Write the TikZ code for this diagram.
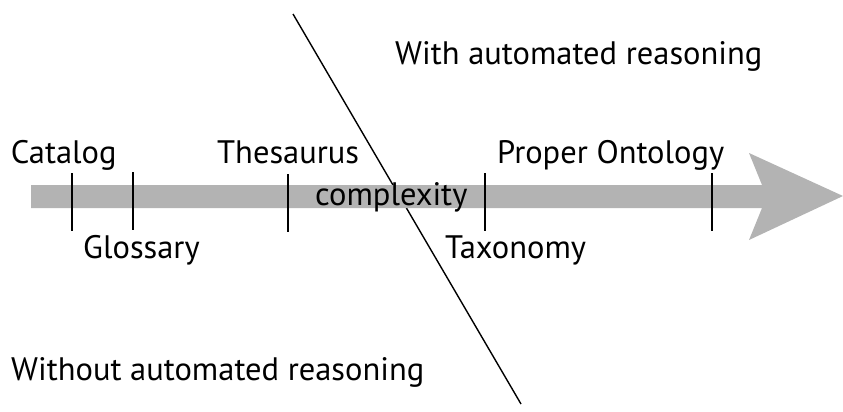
\documentclass[tikz,border=0pt]{standalone}
\usepackage{fontspec}
\setmainfont{PT Sans}
\definecolor{shaft}{RGB}{179,179,179}
\begin{document}
\begin{tikzpicture}[x=1pt, y=-1pt, font=\fontsize{32.5}{38}\selectfont, line join=miter,
  lbl/.style={anchor=base west, inner sep=0pt},
  tick/.style={line width=2pt}]
	\useasboundingbox (0,0) rectangle (843,412);
	% dividing line, drawn first so the arrow covers it
	\path (293,14) coordinate (top) (521,404) coordinate (bot);
	\draw[line width=1.4pt] (top)--(bot);
	% complexity arrow
	\fill[shaft] (31,185) -- (762,185) -- (749,153) -- (843,196) -- (749,240) -- (762,208) -- (31,208) -- cycle;
	\path 
	(72,173) coordinate (cat)
	(133,172) coordinate (glo)
	(288,174) coordinate (the)
	(485,173) coordinate (tax)
	(712,173) coordinate (ont);
	\foreach \i in {cat,glo,the,tax,ont}{\draw[tick](\i)--++(0,58);}
	\node[lbl] (catalog) at (10.7,163) {Catalog};
	\node[lbl] (glossary) at (83,258) {Glossary};
	\node[lbl] (thesaurus) at (217,163) {Thesaurus};
	\node[lbl] (complexity) at (315,205) {complexity};
	\node[lbl] (proper) at (497,163) {Proper Ontology};
	\node[lbl] (taxonomy) at (445,258) {Taxonomy};
	\node[lbl] (with) at (395,65) {With automated reasoning};
	\node[lbl] (without) at (11,380) {Without automated reasoning};
\end{tikzpicture}
\end{document}
